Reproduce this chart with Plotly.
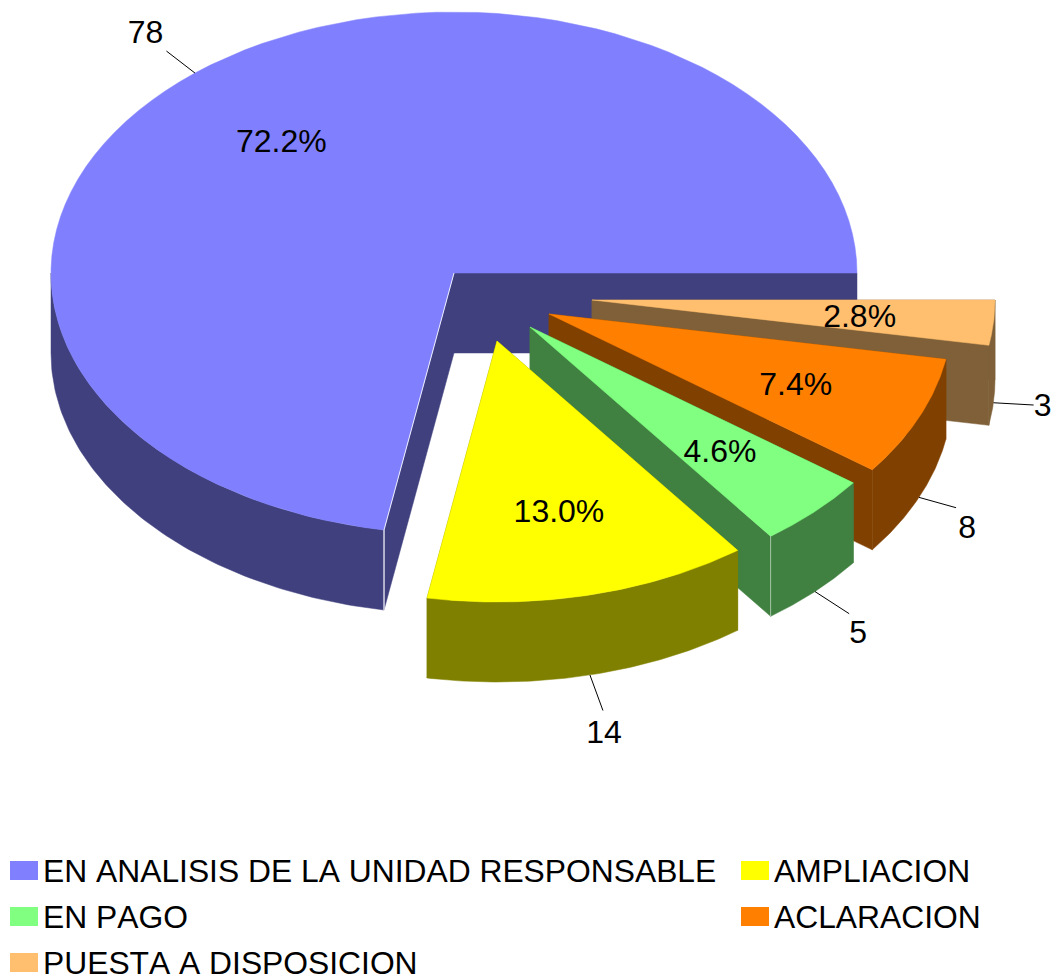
import math
import plotly.graph_objects as go

# ---- data -------------------------------------------------------------
categories = ["PUESTA A DISPOSICION", "ACLARACION", "EN PAGO", "AMPLIACION",
              "EN ANALISIS DE LA UNIDAD RESPONSABLE"]
values = [3, 8, 5, 14, 78]
percent_labels = ["2.8%", "7.4%", "4.6%", "13.0%", "72.2%"]
top_colors = ["#FFBF6F", "#FF8000", "#80FF80", "#FFFF00", "#8080FF"]
side_colors = ["#7F6038", "#804000", "#408040", "#808000", "#40407F"]
legend_order = [4, 3, 2, 1, 0]

# ---- projection / layout settings --------------------------------------
W, H = 1055, 977
CX, CY, RX, RY, DEPTH = 454, 273, 403, 261, 80
START_ANGLE = 90
explode = [(138, 27), (95, 41), (76, 54), (43, 68), (0, 0)]
leader_frac = [0.10, 0.10, 0.12, 0.14, 0.11]
label_shift = [(9, -1), (11, 18), (9, 17), (1, 20), (-21, -20)]
FONT = "Liberation Sans, Arial, sans-serif"
FS = 32
LEGEND_FS = 31.8
TEXT_DY = 4
legend_slots = [(10, 861), (741, 861), (10, 907), (741, 907), (10, 953)]
SW, SH, TEXT_GAP = 28, 19, 5


def pt(a, ox, oy, r=1.0, dz=0):
    t = math.radians(a)
    return (CX + ox + r * RX * math.sin(t), CY + oy - r * RY * math.cos(t) + dz)


def arc(a0, a1, ox, oy, dz=0, n=90):
    return [pt(a0 + (a1 - a0) * i / n, ox, oy, 1.0, dz) for i in range(n + 1)]


def poly(points, color):
    xs = [p[0] for p in points] + [points[0][0]]
    ys = [p[1] for p in points] + [points[0][1]]
    return go.Scatter(x=xs, y=ys, mode="lines", fill="toself", fillcolor=color,
                      line=dict(width=0.5, color=color), hoverinfo="skip", showlegend=False)


def seg(p, q, color, width=1):
    return go.Scatter(x=[p[0], q[0]], y=[p[1], q[1]], mode="lines",
                      line=dict(width=width, color=color), hoverinfo="skip", showlegend=False)


fig = go.Figure()
total = sum(values)
angles = [START_ANGLE]
for v in values:
    angles.append(angles[-1] + 360 * v / total)

# painter order: the main slice first, then the exploded ones from back to front
order = [4, 0, 1, 2, 3]
for i in order:
    a0, a1 = angles[i], angles[i + 1]
    ox, oy = explode[i]
    apex = (CX + ox, CY + oy)
    apex_low = (apex[0], apex[1] + DEPTH)
    for a in (a0, a1):
        fig.add_trace(poly([apex, pt(a, ox, oy), pt(a, ox, oy, 1, DEPTH), apex_low], side_colors[i]))
    # visible part of the outer rim
    r0, r1 = (a0, 270) if a1 > 360 else (a0, a1)
    fig.add_trace(poly(arc(r0, r1, ox, oy) + arc(r1, r0, ox, oy, DEPTH), side_colors[i]))
    fig.add_trace(poly([apex] + arc(a0, a1, ox, oy), top_colors[i]))

# light edges on the cut faces
fig.add_trace(seg((CX, CY), pt(angles[4], 0, 0), "rgba(255,255,255,0.85)", 1))
fig.add_trace(seg(pt(angles[4], 0, 0), pt(angles[4], 0, 0, 1, DEPTH), "#FFFFFF", 1.2))
ox, oy = explode[2]
fig.add_trace(seg(pt(angles[3], ox, oy), pt(angles[3], ox, oy, 1, DEPTH), "rgba(255,255,255,0.5)", 1))

# leader lines, value labels, percentage labels
vx, vy, px, py = [], [], [], []
for i in range(5):
    mid = (angles[i] + angles[i + 1]) / 2
    ox, oy = explode[i]
    on_front = math.cos(math.radians(mid)) < 0.087
    dz = DEPTH if on_front else 0
    s = pt(mid, ox, oy, 1, dz)
    en = pt(mid, ox, oy, 1 + leader_frac[i], dz)
    fig.add_trace(seg(s, en, "#000000", 1))
    vx.append(en[0] + label_shift[i][0])
    vy.append(en[1] + label_shift[i][1] + TEXT_DY)
    c = pt(mid, ox, oy, 2 / 3)
    px.append(c[0])
    py.append(c[1] + TEXT_DY)

fig.add_trace(go.Scatter(x=vx, y=vy, mode="text", text=[str(v) for v in values],
                         textposition="middle center", textfont=dict(family=FONT, size=FS, color="#000"),
                         hoverinfo="skip", showlegend=False))
fig.add_trace(go.Scatter(x=px, y=py, mode="text", text=percent_labels,
                         textposition="middle center", textfont=dict(family=FONT, size=FS, color="#000"),
                         hoverinfo="skip", showlegend=False))

# legend
shapes = []
lx, ly, lt = [], [], []
for slot, i in zip(legend_slots, legend_order):
    x, y = slot
    shapes.append(dict(type="rect", xref="x", yref="y", x0=x, x1=x + SW, y0=y, y1=y + SH,
                       fillcolor=top_colors[i], line=dict(width=0)))
    lx.append(x + SW + TEXT_GAP)
    ly.append(y + SH / 2 + TEXT_DY)
    lt.append(categories[i])
fig.add_trace(go.Scatter(x=lx, y=ly, mode="text", text=lt, textposition="middle right",
                         textfont=dict(family=FONT, size=LEGEND_FS, color="#000"),
                         hoverinfo="skip", showlegend=False))

fig.update_layout(width=W, height=H, margin=dict(l=0, r=0, t=0, b=0),
                  paper_bgcolor="white", plot_bgcolor="white", showlegend=False,
                  shapes=shapes,
                  xaxis=dict(range=[0, W], visible=False, fixedrange=True),
                  yaxis=dict(range=[H, 0], visible=False, fixedrange=True))

fig.write_html("out.html", config={"displayModeBar": False},
               post_script="document.body.style.margin='0';document.documentElement.style.overflow='hidden';"
                           "var s=document.createElement('style');s.textContent='svg text{font-kerning:none}';"
                           "document.head.appendChild(s);")
